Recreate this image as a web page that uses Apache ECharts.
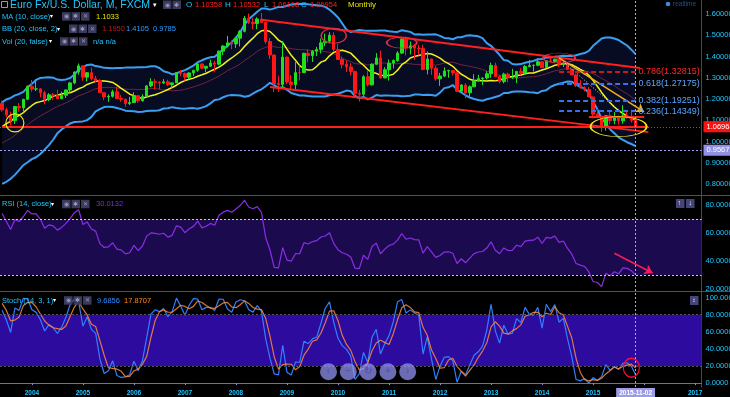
<!DOCTYPE html>
<html>
<head>
<meta charset="utf-8">
<script src="https://cdn.jsdelivr.net/npm/echarts@6/dist/echarts.min.js"></script>
<style>
  html, body { margin: 0; padding: 0; background: #000; }
  #chart { width: 730px; height: 397px; }
</style>
</head>
<body>
<div id="chart"></div>
<script>
// monthly EUR/USD bars, 2001-01 .. 2015-11 (earlier months only warm up the indicators)
const firstYear = 2001;
const viewStart = '2003-06';
const cursorMonth = '2015-11';

const opens = [
  0.9390, 0.9240, 0.9200, 0.8800, 0.8870, 0.8450, 0.8490, 0.8770, 0.9120, 0.9110, 0.9000, 0.8880,
  0.8900, 0.8610, 0.8690, 0.8720, 0.9010, 0.9330, 0.9870, 0.9780, 0.9810, 0.9870, 0.9890, 0.9920,
  1.0490, 1.0740, 1.0780, 1.0910, 1.1180, 1.1800, 1.1495, 1.1250, 1.0990, 1.1650, 1.1590, 1.1990,
  1.2595, 1.2470, 1.2480, 1.2300, 1.1980, 1.2200, 1.2170, 1.2020, 1.2180, 1.2430, 1.2760, 1.3270,
  1.3560, 1.3030, 1.3240, 1.2960, 1.2870, 1.2300, 1.2100, 1.2130, 1.2340, 1.2030, 1.1990, 1.1790,
  1.1840, 1.2160, 1.1920, 1.2120, 1.2620, 1.2810, 1.2790, 1.2760, 1.2810, 1.2680, 1.2760, 1.3240,
  1.3200, 1.3030, 1.3230, 1.3350, 1.3650, 1.3450, 1.3540, 1.3690, 1.3640, 1.4250, 1.4490, 1.4640,
  1.4590, 1.4860, 1.5180, 1.5790, 1.5600, 1.5550, 1.5760, 1.5600, 1.4700, 1.4070, 1.2730, 1.2690,
  1.3970, 1.2800, 1.2680, 1.3240, 1.3240, 1.4150, 1.4040, 1.4250, 1.4330, 1.4640, 1.4720, 1.5000,
  1.4330, 1.3860, 1.3630, 1.3510, 1.3300, 1.2270, 1.2230, 1.3050, 1.2670, 1.3630, 1.3930, 1.2990,
  1.3380, 1.3690, 1.3810, 1.4160, 1.4810, 1.4390, 1.4500, 1.4390, 1.4370, 1.3390, 1.3880, 1.3450,
  1.2950, 1.3080, 1.3320, 1.3340, 1.3230, 1.2370, 1.2660, 1.2300, 1.2580, 1.2860, 1.2960, 1.2990,
  1.3190, 1.3580, 1.3060, 1.2820, 1.3170, 1.3000, 1.3010, 1.3300, 1.3220, 1.3530, 1.3580, 1.3590,
  1.3750, 1.3480, 1.3800, 1.3770, 1.3870, 1.3630, 1.3690, 1.3390, 1.3130, 1.2630, 1.2530, 1.2450,
  1.2100, 1.1290, 1.1190, 1.0730, 1.1220, 1.0990, 1.1150, 1.0980, 1.1210, 1.1170, 1.10358
];
const highs = [
  0.9590, 0.9360, 0.9330, 0.9090, 0.8950, 0.8680, 0.8840, 0.9270, 0.9320, 0.9210, 0.9110, 0.9050,
  0.9050, 0.8780, 0.8840, 0.9030, 0.9380, 0.9930, 1.0190, 0.9930, 0.9980, 0.9920, 1.0150, 1.0500,
  1.0860, 1.0930, 1.1080, 1.1220, 1.1930, 1.1933, 1.1600, 1.1400, 1.1680, 1.1815, 1.2010, 1.2640,
  1.2900, 1.2930, 1.2500, 1.2390, 1.2280, 1.2290, 1.2440, 1.2350, 1.2440, 1.2810, 1.3300, 1.3670,
  1.3580, 1.3250, 1.3480, 1.3090, 1.2940, 1.2320, 1.2220, 1.2440, 1.2580, 1.2190, 1.2030, 1.2110,
  1.2320, 1.2180, 1.2230, 1.2650, 1.2980, 1.2950, 1.2840, 1.2940, 1.2910, 1.2780, 1.3250, 1.3370,
  1.3250, 1.3250, 1.3370, 1.3680, 1.3660, 1.3540, 1.3850, 1.3800, 1.4280, 1.4530, 1.4970, 1.4760,
  1.4880, 1.5240, 1.5900, 1.6020, 1.5800, 1.5840, 1.6040, 1.5630, 1.4870, 1.4080, 1.3100, 1.4720,
  1.4000, 1.3130, 1.3740, 1.3580, 1.4170, 1.4340, 1.4300, 1.4450, 1.4840, 1.5060, 1.5140, 1.5140,
  1.4580, 1.3990, 1.3820, 1.3690, 1.3330, 1.2430, 1.3120, 1.3330, 1.3680, 1.4160, 1.4280, 1.3500,
  1.3860, 1.3860, 1.4250, 1.4880, 1.4940, 1.4700, 1.4580, 1.4550, 1.4550, 1.4240, 1.3900, 1.3560,
  1.3230, 1.3490, 1.3380, 1.3360, 1.3280, 1.2700, 1.2750, 1.2640, 1.3170, 1.3140, 1.3010, 1.3310,
  1.3710, 1.3710, 1.3120, 1.3240, 1.3240, 1.3420, 1.3300, 1.3450, 1.3610, 1.3830, 1.3620, 1.3890,
  1.3770, 1.3830, 1.3970, 1.3900, 1.3990, 1.3700, 1.3700, 1.3440, 1.3190, 1.2890, 1.2600, 1.2570,
  1.2110, 1.1530, 1.1200, 1.1240, 1.1470, 1.1390, 1.1220, 1.1710, 1.1460, 1.1500, 1.10532
];
const lows = [
  0.9200, 0.9060, 0.8760, 0.8750, 0.8440, 0.8420, 0.8400, 0.8760, 0.8970, 0.8900, 0.8760, 0.8760,
  0.8600, 0.8580, 0.8600, 0.8680, 0.9000, 0.9320, 0.9690, 0.9620, 0.9650, 0.9690, 0.9850, 0.9870,
  1.0330, 1.0650, 1.0500, 1.0620, 1.1140, 1.1410, 1.1140, 1.0762, 1.0830, 1.1410, 1.1380, 1.1950,
  1.2350, 1.2380, 1.2090, 1.1760, 1.1900, 1.1970, 1.2020, 1.2000, 1.2050, 1.2300, 1.2700, 1.3150,
  1.2860, 1.2830, 1.2880, 1.2780, 1.2290, 1.1950, 1.1870, 1.2070, 1.2000, 1.1870, 1.1640, 1.1720,
  1.1820, 1.1830, 1.1880, 1.2070, 1.2560, 1.2460, 1.2460, 1.2710, 1.2610, 1.2480, 1.2760, 1.3070,
  1.2870, 1.2930, 1.3080, 1.3280, 1.3410, 1.3260, 1.3520, 1.3260, 1.3590, 1.4070, 1.4420, 1.4340,
  1.4400, 1.4470, 1.5130, 1.5520, 1.5280, 1.5280, 1.5560, 1.4600, 1.3880, 1.2330, 1.2330, 1.2560,
  1.2700, 1.2460, 1.2450, 1.2880, 1.3240, 1.3720, 1.3740, 1.4020, 1.4140, 1.4480, 1.4620, 1.4220,
  1.3860, 1.3440, 1.3270, 1.3110, 1.2140, 1.1880, 1.2150, 1.2590, 1.2630, 1.3630, 1.2970, 1.2990,
  1.2870, 1.3440, 1.3750, 1.4120, 1.4050, 1.4100, 1.3840, 1.4050, 1.3360, 1.3160, 1.3140, 1.2860,
  1.2620, 1.3030, 1.3000, 1.3100, 1.2340, 1.2290, 1.2040, 1.2140, 1.2560, 1.2800, 1.2660, 1.2920,
  1.3000, 1.3040, 1.2740, 1.2740, 1.2790, 1.2950, 1.2750, 1.3130, 1.3140, 1.3490, 1.3290, 1.3540,
  1.3480, 1.3470, 1.3720, 1.3700, 1.3500, 1.3500, 1.3380, 1.3130, 1.2570, 1.2490, 1.2360, 1.2100,
  1.1100, 1.1100, 1.0460, 1.0520, 1.0820, 1.0820, 1.0800, 1.0850, 1.1090, 1.0900, 1.06168
];
const closes = [
  0.9240, 0.9200, 0.8800, 0.8870, 0.8450, 0.8490, 0.8770, 0.9120, 0.9110, 0.9000, 0.8880, 0.8900,
  0.8610, 0.8690, 0.8720, 0.9010, 0.9330, 0.9870, 0.9780, 0.9810, 0.9870, 0.9890, 0.9920, 1.0490,
  1.0740, 1.0780, 1.0910, 1.1180, 1.1800, 1.1495, 1.1250, 1.0990, 1.1650, 1.1590, 1.1990, 1.2595,
  1.2470, 1.2480, 1.2300, 1.1980, 1.2200, 1.2170, 1.2020, 1.2180, 1.2430, 1.2760, 1.3270, 1.3560,
  1.3030, 1.3240, 1.2960, 1.2870, 1.2300, 1.2100, 1.2130, 1.2340, 1.2030, 1.1990, 1.1790, 1.1840,
  1.2160, 1.1920, 1.2120, 1.2620, 1.2810, 1.2790, 1.2760, 1.2810, 1.2680, 1.2760, 1.3240, 1.3200,
  1.3030, 1.3230, 1.3350, 1.3650, 1.3450, 1.3540, 1.3690, 1.3640, 1.4250, 1.4490, 1.4640, 1.4590,
  1.4860, 1.5180, 1.5790, 1.5600, 1.5550, 1.5760, 1.5600, 1.4700, 1.4070, 1.2730, 1.2690, 1.3970,
  1.2800, 1.2680, 1.3240, 1.3236, 1.4150, 1.4040, 1.4250, 1.4330, 1.4640, 1.4720, 1.5000, 1.4330,
  1.3860, 1.3630, 1.3510, 1.3300, 1.2270, 1.2230, 1.3050, 1.2670, 1.3630, 1.3930, 1.2990, 1.3380,
  1.3690, 1.3810, 1.4160, 1.4810, 1.4390, 1.4500, 1.4390, 1.4370, 1.3390, 1.3880, 1.3450, 1.2950,
  1.3080, 1.3320, 1.3340, 1.3230, 1.2370, 1.2660, 1.2300, 1.2580, 1.2860, 1.2960, 1.2990, 1.3190,
  1.3580, 1.3060, 1.2820, 1.3170, 1.3000, 1.3010, 1.3300, 1.3220, 1.3530, 1.3580, 1.3590, 1.3750,
  1.3480, 1.3800, 1.3770, 1.3870, 1.3630, 1.3690, 1.3390, 1.3130, 1.2630, 1.2530, 1.2450, 1.2100,
  1.1290, 1.1190, 1.0730, 1.1220, 1.0990, 1.1150, 1.0980, 1.1210, 1.1170, 1.1000, 1.06954
];

// fibonacci levels drawn on the last leg
const fibRatios = ['0.786', '0.618', '0.382', '0.236'];
const fibPrices = [1.32815, 1.27175, 1.19251, 1.14349];

// drawn annotations, in [month, price]
const channelTop = [['2008-07', 1.572], ['2015-12', 1.346]];
const channelBottom = [['2008-09', 1.257], ['2016-02', 1.045]];
const supportLine = [['2003-06', 1.0705], ['2016-02', 1.0705]];
const boxTop = [['2014-12', 1.118], ['2016-01', 1.118]];
const arrowLine = [['2014-05', 1.393], ['2016-01', 1.140]];
const dottedLine = [['2014-05', 1.393], ['2015-07', 1.149]];
const rsiArrow = [['2015-06', 45.5], ['2016-03', 31.4]];
const lastPrice = 1.06964;
const crossPrice = 0.95677;

function monthLabels(y, m, count) {
  const out = [];
  for (let i = 0; i < count; i++) {
    out.push(y + '-' + String(m).padStart(2, '0'));
    m += 1;
    if (m > 12) { m = 1; y += 1; }
  }
  return out;
}

const dataMonths = monthLabels(firstYear, 1, closes.length);
const startIdx = dataMonths.indexOf(viewStart);
const axisMonths = monthLabels(2003, 6, 165);

const sma = (arr, n) => arr.map((v, i) => {
  if (i < n - 1 || v == null) return null;
  let s = 0;
  for (let k = i - n + 1; k <= i; k++) { if (arr[k] == null) return null; s += arr[k]; }
  return s / n;
});

const bollinger = (arr, n, mult) => {
  const mid = sma(arr, n);
  const up = [], dn = [];
  arr.forEach((v, i) => {
    if (mid[i] == null) { up.push(null); dn.push(null); return; }
    let ss = 0;
    for (let k = i - n + 1; k <= i; k++) ss += (arr[k] - mid[i]) ** 2;
    const sd = Math.sqrt(ss / n);
    up.push(mid[i] + mult * sd);
    dn.push(mid[i] - mult * sd);
  });
  return { mid, up, dn };
};

const rsiCalc = (c, n) => {
  const out = [null];
  let ag = 0, al = 0;
  for (let i = 1; i < c.length; i++) {
    const ch = c[i] - c[i - 1];
    const g = Math.max(ch, 0), l = Math.max(-ch, 0);
    if (i <= n) {
      ag += g / n; al += l / n;
      out.push(i < n ? null : 100 - 100 / (1 + ag / al));
    } else {
      ag = (ag * (n - 1) + g) / n;
      al = (al * (n - 1) + l) / n;
      out.push(100 - 100 / (1 + ag / al));
    }
  }
  return out;
};

const stochK = (h, l, c, n) => c.map((v, i) => {
  if (i < n - 1) return null;
  const hh = Math.max(...h.slice(i - n + 1, i + 1));
  const ll = Math.min(...l.slice(i - n + 1, i + 1));
  return (v - ll) / (hh - ll) * 100;
});

const ma10 = sma(closes, 10);
const bb = bollinger(closes, 20, 2);
const rsi = rsiCalc(closes, 14);
const kLine = stochK(highs, lows, closes, 14);
const dLine = sma(kLine, 3);

const view = (arr) => arr.slice(startIdx);
const candles = view(opens).map((o, i) => [o, closes[i + startIdx], lows[i + startIdx], highs[i + startIdx]]);
const bbUp = view(bb.up), bbDn = view(bb.dn), bbMid = view(bb.mid);
const bbWidth = bbUp.map((v, i) => v - bbDn[i]);

const font = '"Liberation Sans", Arial, sans-serif';
const cyan = '#22c6ff';

const seg = (pair, style, extra) => [
  Object.assign({ coord: pair[0], lineStyle: style }, extra || {}),
  { coord: pair[1] }
];

const ring = (coord, size, color) => ({
  coord, symbol: 'circle', symbolSize: size,
  itemStyle: { color: 'rgba(0,0,0,0)', borderColor: color, borderWidth: 1.2 },
  label: { show: false }
});

const fibLines = fibRatios.map((r, i) => seg(
  [['2014-05', fibPrices[i]], ['2015-11', fibPrices[i]]],
  { color: i === 0 ? '#c81a1a' : '#3b6ff0', width: 2, type: [5, 3] },
  { label: { show: true, position: 'end', distance: 3, formatter: r + '(' + fibPrices[i].toFixed(5) + ')',
    color: i === 0 ? '#ff2a2a' : '#5aa6ff', fontSize: 9, fontFamily: font } }
));

const cursorLine = (withLabel) => ({
  xAxis: cursorMonth,
  lineStyle: { color: '#a6a6f0', type: [2, 2], width: 1 },
  label: withLabel
    ? { show: true, position: 'start', distance: 1, formatter: '2015-11-02', color: '#fff', fontSize: 6.5,
        fontWeight: 'bold', fontFamily: font, backgroundColor: '#9c9ce6', padding: [2, 3, 1, 3] }
    : { show: false }
});

function txt(x, y, s, color, size, weight) {
  return { type: 'text', x: x, y: y, z: 100,
    style: { text: s, fill: color, font: (weight || 'normal') + ' ' + size + 'px ' + font, verticalAlign: 'middle' } };
}
function iconSet(x, y, glyphs) {
  const out = [];
  (glyphs || ['◉', '✱', '✕']).forEach((g, i) => {
    out.push({ type: 'rect', z: 100, shape: { x: x + i * 9.5, y: y - 4.5, width: 8.5, height: 8.5 }, style: { fill: '#3a3a5e' } });
    out.push({ type: 'text', z: 101, x: x + i * 9.5 + 4.25, y: y, style: { text: g, fill: '#9a9ab8', font: '6px ' + font, align: 'center', verticalAlign: 'middle' } });
  });
  return out;
}

const graphics = [
  { type: 'line', z: 90, shape: { x1: 0, y1: 195.5, x2: 730, y2: 195.5 }, style: { stroke: '#4a4a86', lineWidth: 1 } },
  { type: 'line', z: 90, shape: { x1: 0, y1: 291.5, x2: 730, y2: 291.5 }, style: { stroke: '#4a4a86', lineWidth: 1 } },
  { type: 'rect', z: 100, shape: { x: 1.5, y: 1.5, width: 6, height: 6 }, style: { fill: 'none', stroke: cyan, lineWidth: 1 } },
  txt(10, 5, 'Euro Fx/U.S. Dollar, M, FXCM', cyan, 10.5),
  txt(153, 5, '▾', '#ffffff', 7),
  ...iconSet(163, 5, ['◉', '✱']),
  txt(186, 5, 'O', cyan, 8), txt(195, 5, '1.10358', '#ff2020', 7.5),
  txt(225, 5, 'H', cyan, 8), txt(233, 5, '1.10532', '#ff2020', 7.5),
  txt(264, 5, 'L', cyan, 8), txt(272, 5, '1.06168', '#ff2020', 7.5),
  txt(301, 5, 'C', cyan, 8), txt(310, 5, '1.06954', '#ff2020', 7.5),
  txt(348, 5, 'Monthly', '#e6e600', 8),
  txt(2, 16.7, 'MA (10, close)', cyan, 7.5), txt(50, 16.7, '▾', '#ffffff', 6),
  ...iconSet(62, 16.7), txt(96, 16.7, '1.1033', '#e6e600', 7.5),
  txt(2, 29, 'BB (20, close, 2)', cyan, 7.5), txt(57, 29, '▾', '#ffffff', 6),
  ...iconSet(69, 29), txt(102, 29, '1.1950', '#b81c1c', 7.5),
  txt(126, 29, '1.4105', '#2f9cff', 7.5), txt(153, 29, '0.9785', '#2f9cff', 7.5),
  txt(2, 41.7, 'Vol (20, false)', cyan, 7.5), txt(49, 41.7, '▾', '#ffffff', 6),
  ...iconSet(60, 41.7), txt(93, 41.7, 'n/a n/a', cyan, 7.5),
  txt(2, 204.3, 'RSI (14, close)', cyan, 7.5), txt(51, 204.3, '▾', '#ffffff', 6),
  ...iconSet(62, 204.3), txt(96, 204.3, '30.0132', '#7a2fd6', 7.5),
  txt(2, 300.7, 'Stoch (14, 3, 1)', cyan, 7.5), txt(53, 300.7, '▾', '#ffffff', 6),
  ...iconSet(64, 300.7), txt(97, 300.7, '9.6856', '#2f8cff', 7.5), txt(124, 300.7, '17.8707', '#ff8a1a', 7.5),
  { type: 'circle', z: 100, shape: { cx: 668, cy: 4, r: 2.3 }, style: { fill: '#3a8ad8' } },
  txt(673, 4.5, 'realtime', '#244f8c', 6.5),
  { type: 'rect', z: 100, shape: { x: 676, y: 199, width: 8.5, height: 9 }, style: { fill: '#45457a' } },
  { type: 'rect', z: 100, shape: { x: 686, y: 199, width: 8.5, height: 9 }, style: { fill: '#45457a' } },
  txt(677.5, 203.5, '↑', '#ffffff', 7, 'bold'), txt(688.5, 203.5, '↓', '#ffffff', 7, 'bold'),
  { type: 'rect', z: 100, shape: { x: 690, y: 296, width: 8.5, height: 9 }, style: { fill: '#45457a' } },
  txt(692.5, 300.5, '↕', '#ffffff', 6, 'bold')
];
['‹', '−', '↻', '+', '›'].forEach((g, i) => {
  const cx = 328.5 + i * 19.8;
  graphics.push({ type: 'circle', z: 100, shape: { cx: cx, cy: 371.7, r: 8.5 }, style: { fill: 'rgba(150,150,248,0.72)' } });
  graphics.push({ type: 'text', z: 101, x: cx, y: 371.7, style: { text: g, fill: '#5656b8', font: 'bold 10px ' + font, align: 'center', verticalAlign: 'middle' } });
});

const yLabel = (decimals, test) => ({
  color: cyan, fontSize: 7.5, fontFamily: font, margin: 4,
  formatter: (v) => test(v) ? v.toFixed(decimals) : ''
});
const isStep = (v, step) => Math.abs(v / step - Math.round(v / step)) < 1e-6;

const hiddenX = (grid) => ({
  type: 'category', gridIndex: grid, data: axisMonths, boundaryGap: true,
  axisLine: { show: false }, axisTick: { show: false }, axisLabel: { show: false }, splitLine: { show: false }
});

const option = {
  backgroundColor: '#000000',
  animation: false,
  graphic: graphics,
  grid: [
    { left: 0, right: 28.5, top: 0, height: 195, outerBoundsMode: 'none', containLabel: false },
    { left: 0, right: 28.5, top: 196, height: 95, outerBoundsMode: 'none', containLabel: false },
    { left: 0, right: 28.5, top: 292, height: 95, outerBoundsMode: 'none', containLabel: false }
  ],
  xAxis: [
    hiddenX(0),
    hiddenX(1),
    {
      type: 'category', gridIndex: 2, data: axisMonths, boundaryGap: true,
      axisLine: { show: true, lineStyle: { color: '#6a6ac4', width: 1 } },
      axisTick: { show: true, length: 2, alignWithLabel: true, lineStyle: { color: '#8a8ad8' },
        interval: (i, v) => v.endsWith('-01') },
      axisLabel: {
        interval: (i, v) => v.endsWith('-01'),
        formatter: (v) => v.slice(0, 4),
        color: cyan, fontSize: 6.5, fontWeight: 'bold', fontFamily: font, margin: 3
      },
      splitLine: { show: false }
    }
  ],
  yAxis: [
    {
      type: 'value', gridIndex: 0, position: 'right', min: 0.75, max: 1.665, interval: 0.05,
      axisLine: { show: true, lineStyle: { color: '#45456e' } }, axisTick: { show: false }, splitLine: { show: false },
      axisLabel: yLabel(5, (v) => isStep(v, 0.1) && v > 0.77 && v < 1.65)
    },
    {
      type: 'value', gridIndex: 1, position: 'right', min: 18.5, max: 86.5, interval: 0.5,
      axisLine: { show: true, lineStyle: { color: '#45456e' } }, axisTick: { show: false }, splitLine: { show: false },
      axisLabel: yLabel(4, (v) => isStep(v, 20) && v > 19 && v < 85)
    },
    {
      type: 'value', gridIndex: 2, position: 'right', min: -4.5, max: 106.5, interval: 0.5,
      axisLine: { show: true, lineStyle: { color: '#45456e' } }, axisTick: { show: false }, splitLine: { show: false },
      axisLabel: yLabel(4, (v) => isStep(v, 20) && v > -1 && v < 101)
    }
  ],
  series: [
    { name: 'bbBase', type: 'line', data: bbDn, stack: 'bb', symbol: 'none', silent: true,
      lineStyle: { opacity: 0 }, z: 1 },
    { name: 'bbFill', type: 'line', data: bbWidth, stack: 'bb', symbol: 'none', silent: true,
      lineStyle: { opacity: 0 }, areaStyle: { color: '#070c22', opacity: 1 }, z: 1 },
    { name: 'BB upper', type: 'line', data: bbUp, symbol: 'none', lineStyle: { color: '#3a9ef2', width: 2 }, z: 2 },
    { name: 'BB lower', type: 'line', data: bbDn, symbol: 'none', lineStyle: { color: '#3a9ef2', width: 2 }, z: 2 },
    { name: 'BB basis', type: 'line', data: bbMid, symbol: 'none', lineStyle: { color: '#6e2444', width: 1 }, z: 2 },
    { name: 'MA 10', type: 'line', data: view(ma10), symbol: 'none', lineStyle: { color: '#f2f21a', width: 1.5 }, z: 3 },
    {
      name: 'EURUSD', type: 'candlestick', data: candles, barWidth: 3, z: 4,
      itemStyle: { color: '#1fe01f', color0: '#ff1616', borderColor: '#1fe01f', borderColor0: '#ff1616', borderWidth: 1 },
      markLine: {
        symbol: 'none', silent: true, animation: false,
        label: { show: false },
        data: [
          seg(channelTop, { color: '#ff1f1f', width: 2, type: 'solid' }),
          seg(channelBottom, { color: '#ff1f1f', width: 2, type: 'solid' }),
          seg(supportLine, { color: '#ff1f1f', width: 2, type: 'solid' }),
          seg(boxTop, { color: '#ff1f1f', width: 2, type: 'solid' }),
          seg(dottedLine, { color: '#d8d8ff', width: 1, type: [1, 2] }),
          [Object.assign({ coord: arrowLine[0], lineStyle: { color: '#f0b020', width: 1.5, type: 'solid' },
            symbol: 'none' }), { coord: arrowLine[1], symbol: 'arrow', symbolSize: 8 }],
          ...fibLines,
          { yAxis: lastPrice, lineStyle: { color: '#ff2020', type: [1, 2], width: 1 },
            label: { show: true, position: 'end', distance: 2, formatter: lastPrice.toFixed(5), color: '#fff',
              backgroundColor: '#ff1010', fontSize: 7.5, fontFamily: font, padding: [2, 3, 1, 3] } },
          { yAxis: crossPrice, lineStyle: { color: '#a0a0f0', type: [2, 2], width: 1 },
            label: { show: true, position: 'end', distance: 2, formatter: crossPrice.toFixed(5), color: '#fff',
              backgroundColor: '#9090e4', fontSize: 7.5, fontFamily: font, padding: [2, 3, 1, 3] } },
          cursorLine(false)
        ]
      },
      markPoint: {
        silent: true, animation: false,
        data: [
          ring(['2003-09', 1.088], [18, 18], '#f0e020'),
          ring(['2015-07', 1.071], [56, 20], '#f0e020'),
          ring(['2009-12', 1.497], [25, 15], '#e0304a'),
          ring(['2011-04', 1.465], [30, 11], '#e0304a'),
          ring(['2014-05', 1.393], [32, 10], '#e0304a')
        ]
      }
    },
    {
      name: 'RSI', type: 'line', xAxisIndex: 1, yAxisIndex: 1, data: view(rsi), symbol: 'none',
      lineStyle: { color: '#8a2ee6', width: 1.2 }, z: 3,
      markArea: { silent: true, itemStyle: { color: '#1c0a4e' }, data: [[{ yAxis: 30 }, { yAxis: 70 }]] },
      markLine: {
        symbol: 'none', silent: true, label: { show: false },
        data: [
          { yAxis: 70, lineStyle: { color: '#c8c8ff', type: [2, 2], width: 1 } },
          { yAxis: 30, lineStyle: { color: '#c8c8ff', type: [2, 2], width: 1 } },
          cursorLine(false),
          [{ coord: rsiArrow[0], symbol: 'none', lineStyle: { color: '#ff1a55', width: 1.5, type: 'solid' } },
            { coord: rsiArrow[1], symbol: 'arrow', symbolSize: 8 }]
        ]
      }
    },
    {
      name: '%K', type: 'line', xAxisIndex: 2, yAxisIndex: 2, data: view(kLine), symbol: 'none',
      lineStyle: { color: '#2f80ff', width: 1.2 }, z: 3,
      markArea: { silent: true, itemStyle: { color: '#2c0b9e' }, data: [[{ yAxis: 20 }, { yAxis: 80 }]] },
      markLine: {
        symbol: 'none', silent: true, label: { show: false },
        data: [
          { yAxis: 80, lineStyle: { color: '#555566', type: [2, 2], width: 1 } },
          { yAxis: 20, lineStyle: { color: '#555566', type: [2, 2], width: 1 } },
          cursorLine(true)
        ]
      },
      markPoint: { silent: true, data: [ring(['2015-10', 18], [16, 19], '#ff1030')] }
    },
    {
      name: '%D', type: 'line', xAxisIndex: 2, yAxisIndex: 2, data: view(dLine), symbol: 'none',
      lineStyle: { color: '#ff8a3a', width: 1.2, opacity: 0.85 }, z: 3
    }
  ]
};

const chart = echarts.init(document.getElementById('chart'));
chart.setOption(option);
</script>
</body>
</html>
